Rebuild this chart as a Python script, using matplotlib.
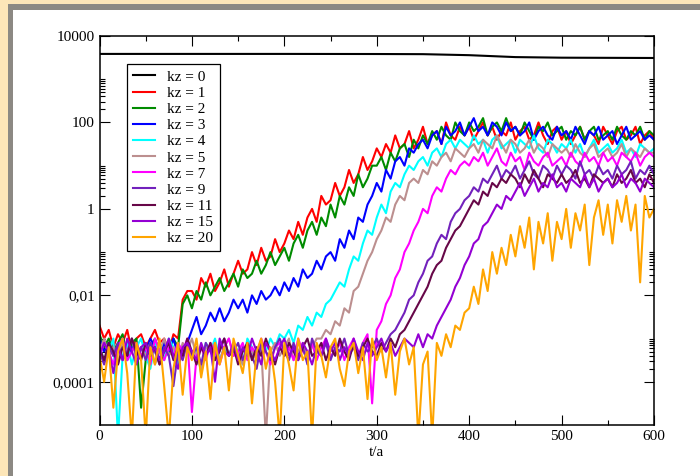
import matplotlib
matplotlib.use("Agg")
import matplotlib.pyplot as plt
from matplotlib.patches import Rectangle
import numpy as np

# sample times (every 5 t/a)
t = list(range(0, 601, 5))

# kz = 0 : slowly varying, large amplitude
t0 = [0, 100, 200, 300, 350, 400, 450, 500, 600]
kz0 = [3850, 3850, 3850, 3830, 3800, 3600, 3250, 3150, 3100]

# log10 of the amplitude for the other modes
kz1_log = [-2.7, -3.0, -2.8, -3.2, -2.9, -3.1, -2.8, -3.3, -3.0, -2.9,
           -3.2, -3.0, -2.8, -3.1, -3.0, -3.3, -2.9, -3.0, -2.1, -1.9,
           -1.9, -2.1, -1.6, -1.8, -1.5, -1.9, -1.7, -1.4, -1.8, -1.5,
           -1.2, -1.5, -1.4, -1.0, -1.3, -0.9, -1.2, -1.1, -0.7, -1.0,
           -0.8, -0.5, -0.7, -0.3, -0.6, -0.2, 0.0, -0.3, 0.3, 0.1,
           0.2, 0.6, 0.3, 0.5, 0.9, 0.6, 0.8, 1.2, 0.9, 1.1,
           1.4, 1.2, 1.5, 1.3, 1.7, 1.4, 1.5, 1.8, 1.4, 1.6,
           1.9, 1.5, 1.7, 1.8, 1.5, 2.0, 1.7, 1.6, 1.9, 1.7,
           1.9, 1.6, 1.8, 2.0, 1.7, 1.9, 1.6, 1.8, 1.7, 2.0,
           1.6, 1.8, 1.9, 1.6, 1.7, 2.0, 1.7, 1.5, 1.8, 1.9,
           1.6, 1.8, 1.5, 1.7, 1.9, 1.6, 1.8, 1.7, 1.5, 1.9,
           1.7, 1.5, 1.8, 1.9, 1.6, 1.7, 1.9, 1.5, 1.7, 1.8,
           1.6]
kz2_log = [-2.9, -3.2, -3.0, -3.3, -3.1, -2.9, -3.4, -3.1, -3.0, -4.6,
           -3.5, -3.2, -3.0, -3.3, -3.1, -3.4, -3.0, -3.2, -2.2, -2.0,
           -2.3, -1.9, -2.1, -1.7, -2.0, -1.8, -1.6, -1.9, -1.7, -1.5,
           -1.8, -1.4, -1.6, -1.5, -1.2, -1.5, -1.3, -1.0, -1.3, -1.1,
           -0.9, -1.2, -0.8, -0.6, -0.9, -0.5, -0.3, -0.6, -0.2, -0.4,
           0.1, -0.2, 0.3, 0.1, 0.5, 0.3, 0.8, 0.5, 0.7, 1.0,
           1.0, 1.2, 0.9, 1.3, 1.1, 1.4, 1.5, 1.2, 1.6, 1.4,
           1.7, 1.5, 1.8, 1.6, 1.9, 1.7, 1.6, 2.0, 1.8, 1.7,
           2.0, 1.8, 1.9, 2.1, 1.7, 1.9, 2.0, 1.8, 2.1, 1.8,
           1.9, 1.7, 2.0, 1.8, 1.6, 1.9, 1.8, 2.0, 1.7, 1.8,
           1.9, 1.6, 1.8, 1.7, 1.9, 1.6, 1.8, 1.9, 1.6, 1.7,
           1.8, 1.6, 1.9, 1.7, 1.6, 1.8, 1.7, 1.9, 1.6, 1.8,
           1.7]
kz3_log = [-3.0, -3.3, -3.1, -3.4, -3.2, -3.0, -3.5, -3.2, -3.1, -3.4,
           -3.3, -3.0, -3.2, -3.5, -3.1, -3.3, -3.0, -3.4, -3.2, -3.1,
           -2.8, -2.5, -2.9, -2.7, -2.4, -2.6, -2.3, -2.6, -2.4, -2.1,
           -2.3, -2.1, -2.4, -2.0, -2.2, -1.9, -2.1, -2.0, -1.8, -2.0,
           -1.7, -1.9, -1.6, -1.8, -1.4, -1.6, -1.5, -1.2, -1.4, -1.1,
           -1.0, -1.2, -0.7, -0.9, -0.5, -0.7, -0.2, -0.3, 0.1, 0.3,
           0.6, 0.4, 0.9, 0.7, 1.1, 1.2, 1.0, 1.4, 1.3, 1.5,
           1.6, 1.4, 1.7, 1.8, 1.5, 1.9, 1.7, 1.8, 2.0, 1.7,
           1.9, 2.1, 1.8, 1.9, 1.7, 2.0, 1.9, 1.7, 2.0, 1.8,
           1.9, 1.7, 1.8, 2.0, 1.6, 1.8, 1.9, 1.7, 1.6, 1.9,
           1.7, 1.8, 1.6, 1.9, 1.7, 1.5, 1.8, 1.7, 1.9, 1.6,
           1.7, 1.8, 1.5, 1.7, 1.9, 1.6, 1.7, 1.8, 1.6, 1.7,
           1.6]
kz4_log = [-3.2, -3.5, -3.3, -3.0, -5.3, -3.4, -3.1, -3.6, -3.2, -3.0,
           -3.4, -3.7, -3.1, -3.3, -3.5, -3.0, -3.2, -3.6, -3.3, -3.1,
           -3.4, -3.2, -3.8, -3.1, -3.3, -3.0, -3.5, -3.2, -3.4, -3.1,
           -3.3, -3.6, -3.0, -3.2, -3.5, -3.1, -3.3, -3.0, -3.2, -2.9,
           -3.0, -2.8, -3.1, -2.7, -2.8, -2.5, -2.7, -2.4, -2.5, -2.2,
           -2.1, -1.9, -1.7, -1.8, -1.4, -1.1, -1.2, -0.8, -0.5, -0.6,
           -0.2, 0.1, -0.1, 0.4, 0.6, 0.5, 0.8, 1.0, 0.9, 1.1,
           1.2, 1.0, 1.3, 1.4, 1.2, 1.5, 1.6, 1.4, 1.6, 1.5,
           1.4, 1.7, 1.5, 1.6, 1.3, 1.6, 1.7, 1.4, 1.5, 1.6,
           1.3, 1.6, 1.5, 1.4, 1.7, 1.4, 1.3, 1.6, 1.5, 1.3,
           1.5, 1.4, 1.6, 1.3, 1.5, 1.2, 1.4, 1.6, 1.3, 1.4,
           1.5, 1.3, 1.4, 1.6, 1.3, 1.4, 1.2, 1.5, 1.4, 1.3,
           1.4]
kz5_log = [-3.3, -3.0, -3.4, -3.2, -3.6, -3.1, -3.3, -3.0, -3.5, -3.2,
           -3.4, -3.1, -3.6, -3.3, -3.0, -3.4, -3.2, -3.5, -3.1, -3.3,
           -3.0, -3.4, -3.7, -3.2, -3.3, -3.1, -3.5, -3.2, -3.0, -3.4,
           -3.3, -3.6, -3.1, -3.3, -3.5, -3.2, -5.3, -3.3, -3.1, -3.4,
           -3.2, -3.0, -3.5, -3.3, -3.1, -3.4, -3.2, -3.0, -3.0, -2.8,
           -2.9, -2.6, -2.7, -2.3, -2.4, -1.9, -1.8, -1.5, -1.2, -1.0,
           -0.7, -0.5, -0.2, -0.3, 0.1, 0.3, 0.2, 0.6, 0.7, 0.6,
           0.9, 0.8, 1.1, 1.0, 1.2, 1.3, 1.1, 1.4, 1.3, 1.2,
           1.4, 1.5, 1.3, 1.6, 1.5, 1.4, 1.7, 1.5, 1.3, 1.6,
           1.5, 1.3, 1.4, 1.6, 1.3, 1.5, 1.4, 1.2, 1.5, 1.4,
           1.3, 1.4, 1.2, 1.5, 1.3, 1.2, 1.4, 1.5, 1.2, 1.3,
           1.4, 1.2, 1.3, 1.5, 1.2, 1.4, 1.3, 1.2, 1.4, 1.3,
           1.3]
kz7_log = [-3.4, -3.1, -3.3, -3.6, -3.2, -3.0, -3.5, -3.3, -3.1, -3.4,
           -3.2, -3.6, -3.0, -3.3, -3.5, -3.2, -3.4, -3.1, -3.3, -3.0,
           -4.7, -3.4, -3.2, -3.5, -3.1, -3.3, -3.6, -3.2, -3.0, -3.4,
           -3.3, -3.1, -3.5, -3.2, -3.4, -3.0, -3.3, -3.6, -3.2, -3.1,
           -3.4, -3.2, -3.5, -3.0, -3.3, -3.4, -3.1, -3.5, -3.2, -3.0,
           -3.4, -3.3, -3.1, -3.5, -3.2, -3.0, -3.4, -3.1, -2.9, -4.5,
           -2.8, -2.6, -2.2, -2.0, -1.6, -1.4, -1.0, -0.8, -0.5, -0.3,
           0.0, -0.1, 0.3, 0.5, 0.4, 0.7, 0.9, 0.8, 1.0, 1.1,
           1.0, 1.2, 1.1, 1.3, 1.0, 1.2, 1.4, 1.1, 1.0, 1.3,
           1.1, 1.2, 0.9, 1.3, 1.1, 1.0, 1.2, 1.3, 1.0, 1.1,
           1.2, 1.0, 1.3, 1.1, 1.0, 1.3, 1.1, 1.2, 1.0, 1.3,
           1.1, 1.2, 1.0, 1.3, 1.2, 1.1, 1.3, 1.0, 1.2, 1.3,
           1.2]
kz9_log = [-3.3, -3.6, -3.2, -3.4, -3.1, -3.5, -3.3, -3.0, -3.4, -3.2,
           -3.5, -3.1, -3.3, -3.6, -3.2, -3.4, -4.1, -3.3, -3.5, -3.1,
           -3.4, -3.2, -3.6, -3.1, -3.3, -3.5, -3.2, -3.0, -3.4, -3.3,
           -3.1, -3.5, -3.2, -3.4, -3.7, -3.1, -3.3, -3.5, -3.2, -3.0,
           -3.3, -3.5, -3.1, -3.4, -3.2, -3.6, -3.0, -3.3, -3.4, -3.1,
           -3.5, -3.2, -3.3, -3.0, -3.4, -3.2, -3.5, -3.1, -3.3, -3.2,
           -3.0, -3.3, -3.1, -2.9, -2.8, -2.6, -2.4, -2.1, -2.0, -1.7,
           -1.5, -1.2, -1.1, -0.8, -0.6, -0.7, -0.3, -0.1, 0.0, 0.2,
           0.3, 0.5, 0.4, 0.7, 0.6, 0.8, 1.0, 0.7, 0.9, 0.8,
           1.0, 0.7, 0.9, 1.1, 0.8, 0.7, 1.0, 0.9, 0.7, 1.0,
           0.8, 1.0, 0.9, 0.7, 1.1, 0.8, 0.9, 0.7, 1.0, 0.8,
           0.9, 0.7, 1.0, 0.8, 0.9, 1.1, 0.7, 0.9, 0.8, 1.0,
           0.8]
kz11_log = [-3.2, -3.5, -3.1, -3.3, -3.6, -3.2, -3.4, -3.0, -3.3, -3.5,
            -3.1, -3.4, -3.2, -3.6, -3.3, -3.1, -3.5, -3.2, -3.4, -3.0,
            -3.3, -3.6, -3.2, -3.4, -3.1, -3.5, -3.3, -3.0, -3.4, -3.2,
            -3.6, -3.3, -3.1, -3.5, -3.2, -3.4, -3.0, -3.3, -3.6, -3.2,
            -3.4, -3.1, -3.3, -3.5, -3.2, -3.0, -3.4, -3.3, -3.1, -3.5,
            -3.2, -3.4, -3.0, -3.3, -3.5, -3.1, -3.4, -3.2, -3.0, -3.3,
            -3.4, -3.1, -3.3, -3.0, -3.2, -2.9, -2.8, -2.6, -2.4, -2.2,
            -2.0, -1.8, -1.5, -1.3, -1.2, -0.9, -0.7, -0.5, -0.4, -0.2,
            0.0, 0.2, 0.1, 0.4, 0.3, 0.6, 0.5, 0.7, 0.6, 0.8,
            0.7, 0.5, 0.8, 0.6, 0.9, 0.7, 0.5, 0.8, 0.7, 0.6,
            0.8, 0.6, 0.7, 0.9, 0.6, 0.7, 0.5, 0.8, 0.7, 0.6,
            0.7, 0.5, 0.8, 0.6, 0.7, 0.9, 0.6, 0.7, 0.5, 0.8,
            0.6]
kz15_log = [-3.4, -3.1, -3.3, -3.8, -3.2, -3.5, -3.0, -3.3, -3.6, -3.2,
            -3.1, -3.4, -3.2, -3.5, -3.3, -3.0, -3.4, -3.7, -3.2, -3.1,
            -3.3, -3.5, -3.1, -3.4, -3.2, -4.0, -3.0, -3.3, -3.4, -3.1,
            -3.5, -3.2, -3.4, -3.0, -3.3, -3.6, -3.1, -3.3, -3.5, -3.2,
            -3.0, -3.4, -3.2, -3.5, -3.1, -3.3, -3.6, -3.2, -3.4, -3.0,
            -3.3, -3.1, -3.5, -3.2, -3.4, -3.0, -3.3, -3.5, -3.1, -3.4,
            -3.2, -3.0, -3.3, -3.1, -3.4, -3.2, -3.0, -3.1, -3.2, -2.9,
            -3.2, -2.9, -3.0, -2.7, -2.5, -2.3, -2.1, -1.8, -1.6, -1.3,
            -1.1, -0.8, -0.7, -0.4, -0.3, -0.1, 0.1, 0.0, 0.3, 0.2,
            0.4, 0.6, 0.3, 0.5, 0.7, 0.4, 0.6, 0.5, 0.8, 0.5,
            0.6, 0.4, 0.7, 0.6, 0.5, 0.8, 0.5, 0.7, 0.4, 0.6,
            0.7, 0.5, 0.6, 0.8, 0.5, 0.7, 0.6, 0.4, 0.7, 0.6,
            0.5]
kz20_log = [-3.4, -4.0, -3.2, -4.6, -3.3, -3.0, -3.8, -5.3, -3.1, -3.5,
            -5.3, -3.2, -3.6, -3.0, -4.1, -5.3, -3.7, -3.1, -4.3, -3.2,
            -3.5, -3.0, -3.9, -3.3, -4.4, -3.1, -3.6, -3.2, -4.2, -3.0,
            -3.4, -3.8, -3.1, -4.5, -3.3, -3.0, -3.7, -3.2, -4.0, -5.3,
            -3.1, -3.6, -4.2, -3.0, -3.5, -3.3, -5.3, -3.1, -3.4, -3.9,
            -3.2, -3.0, -3.7, -4.1, -3.3, -3.1, -3.8, -3.2, -4.4, -3.0,
            -3.5, -3.2, -3.9, -3.1, -4.3, -3.3, -3.0, -3.6, -3.2, -5.3,
            -3.6, -3.3, -5.3, -3.1, -3.4, -2.9, -3.2, -2.7, -2.8, -2.4,
            -2.3, -1.8, -2.2, -1.4, -1.9, -1.0, -1.5, -0.9, -1.3, -0.6,
            -1.1, -0.4, -0.9, -0.2, -1.4, -0.3, -0.8, -0.1, -1.2, -0.3,
            -0.7, 0.0, -0.9, -0.1, -0.5, 0.1, -1.3, -0.2, 0.2, -0.6,
            0.1, -0.8, 0.2, -0.3, 0.3, -0.5, 0.1, -1.7, 0.3, -0.2,
            0.0]

labels = ["kz = 1", "kz = 2", "kz = 3", "kz = 4", "kz = 5", "kz = 7",
          "kz = 9", "kz = 11", "kz = 15", "kz = 20"]
series = [kz1_log, kz2_log, kz3_log, kz4_log, kz5_log, kz7_log,
          kz9_log, kz11_log, kz15_log, kz20_log]
colors = ["#ff0000", "#008b00", "#0000ff", "#00ffff", "#bc8f8f", "#ff00ff",
          "#7221bc", "#670748", "#9400d3", "#ffa500"]

ytick_vals = [1e-4, 1e-2, 1, 100, 1e4]
ytick_labels = ["0,0001", "0,01", "1", "100", "10000"]

plt.rcParams['font.family'] = ['Liberation Serif', 'DejaVu Serif']
plt.rcParams['font.size'] = 11

fig = plt.figure(figsize=(7, 4.76), dpi=100)

# window-like border at top and left
fig.add_artist(Rectangle((0, 0), 8/700, 1, transform=fig.transFigure,
                         color="#fde6b8", lw=0, zorder=0))
fig.add_artist(Rectangle((0, 472/476), 1, 4/476, transform=fig.transFigure,
                         color="#fde6b8", lw=0, zorder=0))
fig.add_artist(Rectangle((8/700, 0), 5/700, 472/476, transform=fig.transFigure,
                         color="#8c8983", lw=0, zorder=0))
fig.add_artist(Rectangle((8/700, 466/476), 692/700, 6/476, transform=fig.transFigure,
                         color="#8c8983", lw=0, zorder=0))

ax = fig.add_axes([99.5/700, 1 - 425/476, 554.5/700, 389/476])

ax.plot(t0, kz0, color="black", lw=1.5, label="kz = 0")
for vals, lab, c in zip(series, labels, colors):
    ax.plot(t, 10**np.array(vals), color=c, lw=1.5, label=lab)

ax.set_yscale("log")
ax.set_xlim(0, 600)
ax.set_ylim(1e-5, 1e4)
ax.set_xticks(range(0, 601, 100))
ax.set_xticks(range(50, 600, 100), minor=True)
ax.set_yticks(ytick_vals, ytick_labels)
ax.set_yticks([k*10.0**e for e in (-4, -2, 0, 2) for k in range(2, 11)], minor=True)
ax.yaxis.set_minor_formatter(plt.NullFormatter())
ax.tick_params(which="both", direction="in", top=True, right=True, width=0.8, labelsize=11)
ax.tick_params(which="major", length=7.2)
ax.tick_params(which="minor", length=3.6)
for s in ax.spines.values():
    s.set_linewidth(1.1)
ax.set_xlabel("t/a", fontsize=11, labelpad=2)

leg = ax.legend(loc="upper left", bbox_to_anchor=(0.0496, 0.928), borderaxespad=0,
                fancybox=False, edgecolor="black", framealpha=1, fontsize=11,
                handlelength=1.45, handletextpad=0.8, labelspacing=0.16, borderpad=0.4)
leg.get_frame().set_linewidth(0.9)

fig.savefig("out.png", dpi=100)
